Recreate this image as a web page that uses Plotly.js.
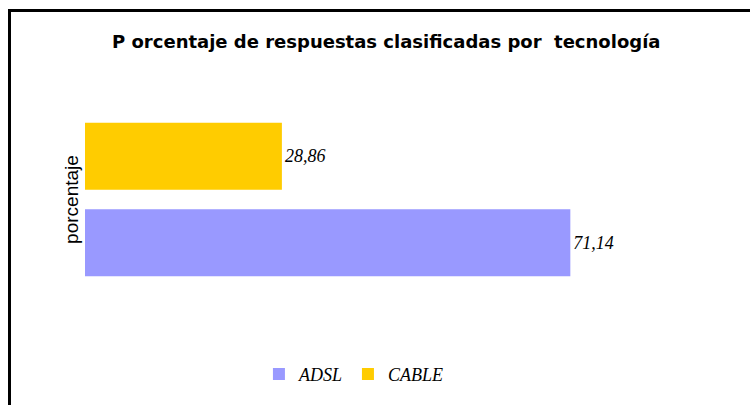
<!DOCTYPE html>
<html>
<head>
<meta charset="utf-8">
<script src="https://cdn.plot.ly/plotly-3.0.1.min.js"></script>
<style>
  html, body { margin: 0; padding: 0; background: #fff; }
  #wrap { position: relative; width: 750px; height: 405px; overflow: hidden; }
  #chart { position: absolute; left: 0; top: 0; width: 750px; height: 405px; }
  #frame { position: absolute; left: 8px; top: 9px; width: 760px; height: 420px;
           border-left: 3px solid #000; border-top: 3px solid #000; pointer-events: none; }
</style>
</head>
<body>
<div id="wrap">
  <div id="chart"></div>
  <div id="frame"></div>
</div>
<script>
const categories = ['porcentaje'];
const seriesNames = ['ADSL', 'CABLE'];
const adslValues = [71.14];
const cableValues = [28.86];
const seriesColors = ['#9999FF', '#FFCC00'];
const chartTitle = 'P orcentaje de respuestas clasificadas por  tecnología';

const labelFont = { family: 'Liberation Serif, DejaVu Serif, serif', size: 18, color: '#000', style: 'italic' };

const traces = [
  { type: 'bar', orientation: 'h', name: seriesNames[0], y: categories, x: adslValues,
    marker: { color: seriesColors[0] }, text: adslValues.map(v => v.toFixed(2).replace('.', ',')),
    textposition: 'outside', textfont: labelFont, cliponaxis: false, hoverinfo: 'none' },
  { type: 'bar', orientation: 'h', name: seriesNames[1], y: categories, x: cableValues,
    marker: { color: seriesColors[1] }, text: cableValues.map(v => v.toFixed(2).replace('.', ',')),
    textposition: 'outside', textfont: labelFont, cliponaxis: false, hoverinfo: 'none' }
];

const layout = {
  width: 750, height: 405,
  margin: { l: 85, r: 51, t: 83, b: 82 },
  paper_bgcolor: 'rgba(0,0,0,0)', plot_bgcolor: 'rgba(0,0,0,0)',
  barmode: 'group', bargap: 0.2583, bargroupgap: 0.2247,
  separators: ',.',
  title: { text: chartTitle, x: 0.515, xanchor: 'center', y: 0.896, yanchor: 'middle',
           font: { family: 'DejaVu Sans', size: 18, weight: 'bold', color: '#000' } },
  xaxis: { range: [0, 90], visible: false, fixedrange: true },
  yaxis: { range: [-0.5, 0.5], showticklabels: false, showgrid: false, zeroline: false, showline: false,
           ticks: '', automargin: false, fixedrange: true,
           title: { text: 'porcentaje', standoff: 0, font: { family: 'Liberation Sans, Arial, sans-serif', size: 19, color: '#000' } } },
  showlegend: true,
  legend: { orientation: 'h', x: 0.438, xanchor: 'center', y: -0.25, yanchor: 'middle',
            traceorder: 'normal', itemwidth: 30,
            font: { family: 'Liberation Serif, DejaVu Serif, serif', size: 18, color: '#000', style: 'italic' } }
};

Plotly.newPlot('chart', traces, layout, { displayModeBar: false, staticPlot: true });
</script>
</body>
</html>
